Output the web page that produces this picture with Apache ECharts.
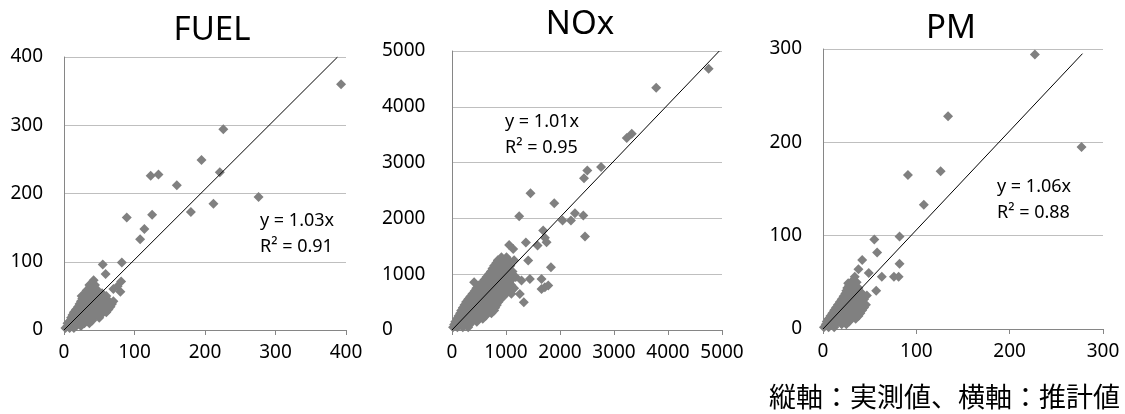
<!DOCTYPE html>
<html>
<head>
<meta charset="utf-8">
<script src="https://cdn.jsdelivr.net/npm/echarts@6/dist/echarts.min.js"></script>
<style>
  html, body { margin: 0; padding: 0; background: #fff; }
  #main { width: 1125px; height: 414px; }
</style>
</head>
<body>
<div id="main"></div>
<script>
// FUEL: [推計値, 実測値]
var fuelPoints = [
  [2,3],[8,3],[14,3],
  [5,6],[11,6],[17,6],[24,6],
  [5,10],[13,10],[21,10],[29,10],[36,10],
  [9,14],[17,14],[25,14],[33,14],[40,14],
  [10,18],[18,18],[26,18],[34,18],[42,18],[50,18],
  [12,22],[20,22],[28,22],[36,22],[44,22],[52,22],
  [14,26],[22,26],[30,26],[38,26],[46,26],[54,26],[60,26],
  [17,30],[25,30],[33,30],[41,30],[49,30],[57,30],[63,30],
  [20,34],[28,34],[36,34],[44,34],[52,34],[60,34],[66,34],
  [22,38],[30,38],[38,38],[46,38],[54,38],[62,38],[68,38],
  [24,42],[32,42],[40,42],[48,42],[56,42],[64,42],[70,42],
  [26,46],[34,46],[42,46],[50,46],[58,46],
  [28,50],[36,50],[44,50],[52,50],[60,50],
  [30,54],[38,54],[46,54],[54,54],
  [32,58],[40,58],[48,58],[70,60],[76,64],
  [36,66],[44,66],
  [393,360],[226,294],[195,249],[221,231],[276,195],[212,185],[180,173],[123,226],[134,228],
  [160,212],[125,169],[89,165],[114,148],[108,133],[82,99],[55,96],[59,82],[42,73],[37,63],
  [81,71],[80,56],[57,41],[56,29],[25,50]
];
var noxPoints = [
  [20,50],[100,50],[200,50],[300,50],
  [40,100],[130,100],[230,100],[330,100],
  [60,150],[160,150],[260,150],[360,150],[460,150],
  [90,200],[190,200],[290,200],[390,200],[490,200],[570,200],
  [120,250],[220,250],[320,250],[420,250],[520,250],[620,250],
  [150,300],[250,300],[350,300],[450,300],[550,300],[650,300],[730,300],
  [170,350],[270,350],[370,350],[470,350],[570,350],[680,350],[780,350],
  [200,400],[300,400],[400,400],[500,400],[600,400],[700,400],[800,400],
  [230,450],[330,450],[430,450],[530,450],[630,450],[730,450],[830,450],
  [260,500],[360,500],[460,500],[560,500],[660,500],[760,500],[860,500],
  [300,550],[400,550],[500,550],[600,550],[700,550],[800,550],[900,550],
  [340,600],[440,600],[540,600],[640,600],[740,600],[840,600],[950,600],
  [380,650],[480,650],[580,650],[680,650],[780,650],[880,650],[1000,650],[1100,650],
  [420,700],[520,700],[620,700],[720,700],[820,700],[920,700],[1050,700],
  [450,750],[550,750],[650,750],[750,750],[850,750],[950,750],[1050,750],[1150,750],
  [500,800],[600,800],[700,800],[800,800],[900,800],[1000,800],[1100,800],
  [560,850],[660,850],[760,850],[860,850],[960,850],[1060,850],
  [600,900],[700,900],[800,900],[900,900],[1000,900],[1100,900],
  [640,950],[740,950],[840,950],[940,950],[1040,950],[1180,950],
  [680,1000],[780,1000],[880,1000],[980,1000],[1080,1000],
  [720,1050],[820,1050],[920,1050],[1020,1050],[1120,1050],
  [750,1100],[850,1100],[950,1100],[1050,1100],
  [780,1150],[880,1150],[980,1150],[1080,1150],
  [820,1200],[920,1200],[1020,1200],
  [850,1250],[950,1250],[1050,1250],[1150,1250],
  [4752,4683],[3781,4342],[3329,3517],[3236,3439],[2760,2919],[2506,2859],[2444,2721],[1454,2452],
  [1894,2273],[1244,2039],[2277,2093],[2432,2051],[2048,1962],[2203,1962],[2463,1675],[1689,1782],
  [1720,1651],[1368,1567],[1584,1513],[1751,1573],[1058,1525],[1133,1453],[1411,1244],[1832,1124],
  [1658,915],[1720,766],[1782,796],[1658,735],[1442,915],[1287,885],[1101,706],[1256,646],[1330,496],
  [410,855],[916,1304],[854,1244],[1009,1304]
];
var pmPoints = [
  [1,2],[6,2],[12,2],
  [3,5],[8,5],[14,5],[20,5],[25,5],
  [4,8],[10,8],[16,8],[22,8],[28,8],
  [6,11],[12,11],[18,11],[24,11],[30,11],[35,11],
  [8,14],[14,14],[20,14],[26,14],[32,14],[38,14],
  [10,17],[16,17],[22,17],[28,17],[34,17],[40,17],
  [12,20],[18,20],[24,20],[30,20],[36,20],[42,20],
  [14,23],[20,23],[26,23],[32,23],[38,23],[44,23],
  [16,26],[22,26],[28,26],[34,26],[40,26],[46,26],
  [18,29],[24,29],[30,29],[36,29],[42,29],
  [20,32],[26,32],[32,32],[38,32],[44,32],
  [22,35],[28,35],[34,35],[40,35],
  [24,38],[30,38],[36,38],[42,38],
  [25,41],[31,41],[37,41],
  [26,44],[32,44],[38,44],
  [28,47],[34,47],
  [30,50],[36,50],
  [34,56],
  [227,294],[277,195],[134,228],[126,169],[91,165],[108,133],[82,99],[55,96],[58,82],[42,74],
  [38,64],[63,56],[82,70],[76,56],[81,56],[49,60],[57,41],[47,36],[27,49]
];

// 近似直線 (y = a x) の両端
var fuelTrend = [[0,0],[388,400]];
var noxTrend = [[0,0],[4950,5000]];
var pmTrend = [[0,0],[278,295]];

var titles = ['FUEL', 'NOx', 'PM'];
var eqTexts = [['y = 1.03x', 'R² = 0.91'], ['y = 1.01x', 'R² = 0.95'], ['y = 1.06x', 'R² = 0.88']];
var axisMax = [400, 5000, 300];
var axisStep = [100, 1000, 100];
var note = '縦軸：実測値、横軸：推計値';

var grids = [
  {left: 64, top: 57, width: 282, height: 273},
  {left: 452, top: 51, width: 270, height: 279},
  {left: 823, top: 49, width: 280, height: 280}
];
var titlePos = [[212, 31], [580, 25], [951, 29]];
var eqPos = [[260, 221], [505, 122], [997, 187]];

var font = 'Noto Sans';
var plain = function (v) { return String(v); };
var xAxes = [], yAxes = [];
for (var i = 0; i < 3; i++) {
  xAxes.push({
    type: 'value', gridIndex: i, min: 0, max: axisMax[i], interval: axisStep[i],
    axisLine: {show: true, lineStyle: {color: '#868686'}},
    axisTick: {show: true, length: 5, lineStyle: {color: '#868686'}},
    axisLabel: {color: '#000', fontSize: 19, fontFamily: font, margin: 13, formatter: plain},
    splitLine: {show: false}
  });
  yAxes.push({
    type: 'value', gridIndex: i, min: 0, max: axisMax[i], interval: axisStep[i],
    axisLine: {show: true, lineStyle: {color: '#868686'}},
    axisTick: {show: false},
    axisLabel: i == 1
      ? {color: '#000', fontSize: 19, fontFamily: font, margin: 70, align: 'left', formatter: plain}
      : {color: '#000', fontSize: 19, fontFamily: font, margin: 21, formatter: plain},
    splitLine: {show: true, lineStyle: {color: '#bfbfbf', width: 1}}
  });
}

var pointSets = [fuelPoints, noxPoints, pmPoints];
var trendSets = [fuelTrend, noxTrend, pmTrend];
var series = [];
for (var j = 0; j < 3; j++) {
  series.push({
    type: 'scatter', xAxisIndex: j, yAxisIndex: j,
    data: pointSets[j], symbol: 'diamond', symbolSize: 10,
    itemStyle: {color: '#808080', opacity: 1}
  });
  series.push({
    type: 'line', xAxisIndex: j, yAxisIndex: j,
    data: trendSets[j], showSymbol: false, silent: true,
    lineStyle: {color: '#000', width: 1}, z: 3
  });
}

var graphics = [];
for (var k = 0; k < 3; k++) {
  graphics.push({
    type: 'text', x: titlePos[k][0], y: titlePos[k][1],
    style: {text: titles[k], fontSize: 33, fontFamily: font, fill: '#000', align: 'center', verticalAlign: 'middle'}
  });
  graphics.push({
    type: 'text', x: eqPos[k][0], y: eqPos[k][1],
    style: {text: eqTexts[k][0], fontSize: 18, fontFamily: font, fill: '#000', align: 'left', verticalAlign: 'middle'}
  });
  graphics.push({
    type: 'text', x: eqPos[k][0], y: eqPos[k][1] + 26,
    style: {text: eqTexts[k][1], fontSize: 18, fontFamily: font, fill: '#000', align: 'left', verticalAlign: 'middle'}
  });
}
graphics.push({
  type: 'text', x: 1120, y: 397,
  style: {text: note, fontSize: 27, fontFamily: 'Noto Sans CJK JP', fill: '#000', align: 'right', verticalAlign: 'middle'}
});

var chart = echarts.init(document.getElementById('main'));
chart.setOption({
  animation: false,
  backgroundColor: '#fff',
  grid: grids,
  xAxis: xAxes,
  yAxis: yAxes,
  series: series,
  graphic: graphics
});
</script>
</body>
</html>
